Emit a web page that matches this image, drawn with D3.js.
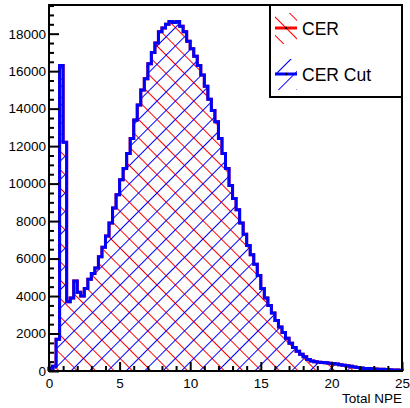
<!DOCTYPE html>
<html>
<head>
<meta charset="utf-8">
<script src="https://cdn.jsdelivr.net/npm/d3@7"></script>
<style>
body { margin: 0; background: #fff; }
svg { display: block; font-family: "Liberation Sans", Arial, Helvetica, sans-serif; }
</style>
</head>
<body>
<div id="chart"></div>
<script>
// 100 bins of 0.25 NPE between 0 and 25
const binWidth = 0.25;
const cerCounts = [
    150, 250, 1700, 16300, 12200, 3700, 3900, 4800, 4200, 4000,
    4400, 4900, 5200, 5500, 6100, 6600, 7200, 7900, 8700, 9400,
    10200, 10800, 11600, 12400, 13400, 14200, 15000, 15600, 16400, 17000,
    17500, 18100, 18300, 18500, 18650, 18600, 18650, 18400, 18100, 17600,
    17200, 16800, 16300, 15800, 15200, 14500, 13900, 13300, 12400, 11600,
    10800, 9900, 9200, 8600, 7900, 7300, 6700, 6200, 5700, 5100,
    4400, 3900, 3500, 3100, 2700, 2350, 2050, 1750, 1480, 1250,
    1050, 900, 760, 620, 530, 490, 470, 450, 440, 420,
    400, 370, 340, 310, 280, 250, 220, 190, 160, 140,
    130, 120, 110, 100, 90, 80, 70, 60, 50, 40
];
// the cut histogram sits right on top of the uncut one
const cerCutCounts = [
    150, 250, 1700, 16300, 12200, 3700, 3900, 4800, 4200, 4000,
    4400, 4900, 5200, 5500, 6100, 6600, 7200, 7900, 8700, 9400,
    10200, 10800, 11600, 12400, 13400, 14200, 15000, 15600, 16400, 17000,
    17500, 18100, 18300, 18500, 18650, 18600, 18650, 18400, 18100, 17600,
    17200, 16800, 16300, 15800, 15200, 14500, 13900, 13300, 12400, 11600,
    10800, 9900, 9200, 8600, 7900, 7300, 6700, 6200, 5700, 5100,
    4400, 3900, 3500, 3100, 2700, 2350, 2050, 1750, 1480, 1250,
    1050, 900, 760, 620, 530, 490, 470, 450, 440, 420,
    400, 370, 340, 310, 280, 250, 220, 190, 160, 140,
    130, 120, 110, 100, 90, 80, 70, 60, 50, 40
];
const seriesNames = ["CER", "CER Cut"];
const xTicks = [0, 5, 10, 15, 20, 25];
const yTicks = [0, 2000, 4000, 6000, 8000, 10000, 12000, 14000, 16000, 18000];
const xTitle = "Total NPE";

const width = 410, height = 408;
const margin = { top: 5, right: 8, bottom: 37, left: 49 };

const svg = d3.select("#chart")
    .append("svg")
    .attr("width", width)
    .attr("height", height);

const x = d3.scaleLinear()
    .domain([0, 25])
    .range([margin.left, width - margin.right]);

const y = d3.scaleLinear()
    .domain([0, 19530])
    .range([height - margin.bottom, margin.top]);

// hatch patterns: red "\" and blue "/"
const defs = svg.append("defs");
function hatch(id, color, angle) {
    defs.append("pattern")
        .attr("id", id)
        .attr("patternUnits", "userSpaceOnUse")
        .attr("width", 13)
        .attr("height", 13)
        .attr("patternTransform", `rotate(${angle})`)
        .append("line")
        .attr("x1", 0.5).attr("y1", 0)
        .attr("x2", 0.5).attr("y2", 13)
        .attr("stroke", color)
        .attr("stroke-width", 1);
}
hatch("hatchRed", "#ff0000", -45);
hatch("hatchBlue", "#0000ff", 45);

function stepPoints(counts) {
    const pts = [[0, 0]];
    counts.forEach((c, i) => pts.push([i * binWidth, c]));
    pts.push([counts.length * binWidth, counts[counts.length - 1]]);
    pts.push([counts.length * binWidth, 0]);
    return pts;
}

const step = d3.line()
    .x(d => x(d[0]))
    .y(d => y(d[1]))
    .curve(d3.curveStepAfter);

const series = [
    { name: seriesNames[0], counts: cerCounts, color: "#ff0000", fill: "url(#hatchRed)" },
    { name: seriesNames[1], counts: cerCutCounts, color: "#0000ff", fill: "url(#hatchBlue)" }
];

// hatched areas
series.forEach(s => {
    svg.append("path")
        .attr("d", step(stepPoints(s.counts)) + "Z")
        .attr("fill", s.fill)
        .attr("stroke", "none");
});

// outlines
series.forEach(s => {
    svg.append("path")
        .attr("d", step(stepPoints(s.counts)))
        .attr("fill", "none")
        .attr("stroke", s.color)
        .attr("stroke-width", 3)
        .attr("stroke-linejoin", "miter");
});

// y axis, ticks pointing inside
const yMinor = d3.range(0, 19530, 500).filter(v => v % 2000 !== 0);
svg.append("g")
    .attr("transform", `translate(${margin.left},0)`)
    .call(d3.axisLeft(y).tickValues(yMinor).tickSize(-5).tickFormat(""))
    .call(g => g.select(".domain").remove())
    .selectAll("line").attr("stroke-width", 2);

svg.append("g")
    .attr("transform", `translate(${margin.left},0)`)
    .call(d3.axisLeft(y).tickValues(yTicks).tickSize(-10).tickPadding(3).tickFormat(d3.format("d")))
    .call(g => g.select(".domain").remove())
    .call(g => g.selectAll("line").attr("stroke-width", 2))
    .call(g => g.selectAll("text")
        .attr("font-size", 13.5)
        .attr("font-family", "Liberation Sans, Arial, sans-serif")
        .attr("fill", "#000"));

// x axis
const xMinor = d3.range(1, 25).filter(v => v % 5 !== 0);
svg.append("g")
    .attr("transform", `translate(0,${height - margin.bottom})`)
    .call(d3.axisBottom(x).tickValues(xMinor).tickSize(-5).tickFormat(""))
    .call(g => g.select(".domain").remove())
    .selectAll("line").attr("stroke-width", 2);

svg.append("g")
    .attr("transform", `translate(0,${height - margin.bottom})`)
    .call(d3.axisBottom(x).tickValues(xTicks).tickSize(-9).tickPadding(7))
    .call(g => g.select(".domain").remove())
    .call(g => g.selectAll("line").attr("stroke-width", 2))
    .call(g => g.selectAll("text")
        .attr("font-size", 13.5)
        .attr("font-family", "Liberation Sans, Arial, sans-serif")
        .attr("fill", "#000"));

svg.append("text")
    .attr("x", x(25))
    .attr("y", 403)
    .attr("text-anchor", "end")
    .attr("font-size", 13.5)
    .text(xTitle);

// frame
svg.append("rect")
    .attr("x", x(0))
    .attr("y", y(19530))
    .attr("width", x(25) - x(0))
    .attr("height", y(0) - y(19530))
    .attr("fill", "none")
    .attr("stroke", "#000")
    .attr("stroke-width", 2);

// legend
const legend = svg.append("g");
legend.append("rect")
    .attr("x", 270)
    .attr("y", 5)
    .attr("width", 132)
    .attr("height", 92)
    .attr("fill", "#fff")
    .attr("stroke", "#000")
    .attr("stroke-width", 2);

series.forEach((s, i) => {
    const cy = 28 + i * 46;
    legend.append("rect")
        .attr("x", 275)
        .attr("y", cy - 15)
        .attr("width", 22)
        .attr("height", 31)
        .attr("fill", s.fill);
    legend.append("line")
        .attr("x1", 275).attr("x2", 297)
        .attr("y1", cy).attr("y2", cy)
        .attr("stroke", s.color)
        .attr("stroke-width", 3);
    legend.append("circle")
        .attr("cx", 286).attr("cy", cy)
        .attr("r", 1.2)
        .attr("fill", "#000");
    legend.append("text")
        .attr("x", 302)
        .attr("y", cy + 7)
        .attr("font-size", 17.5)
        .text(s.name);
});
</script>
</body>
</html>
